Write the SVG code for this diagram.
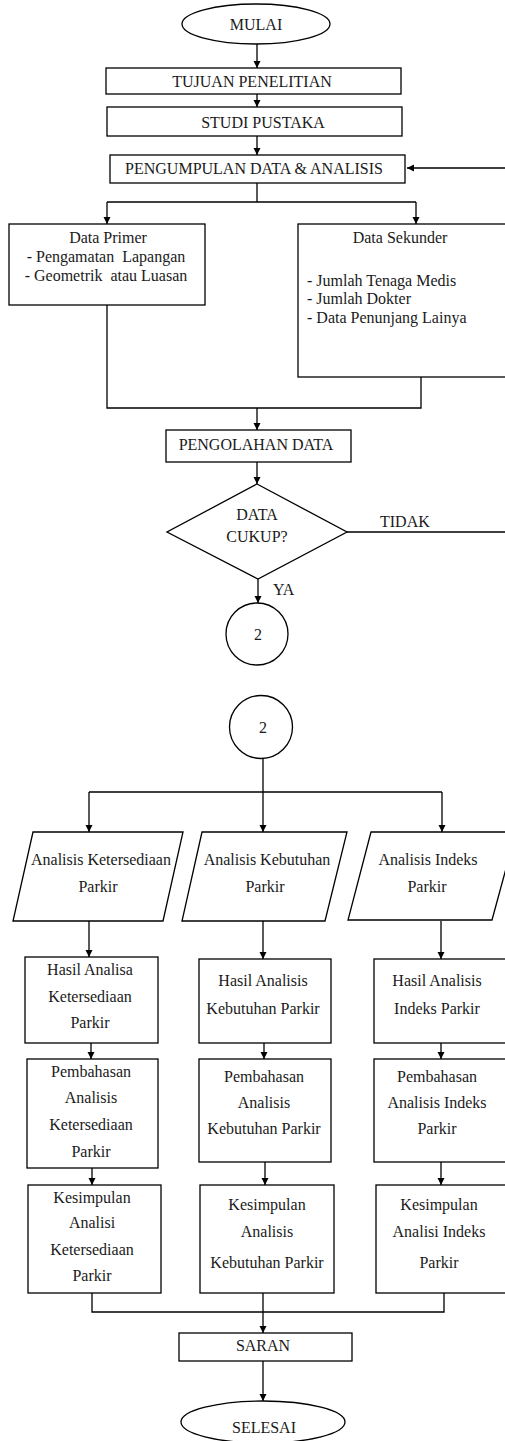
<svg xmlns="http://www.w3.org/2000/svg" width="505" height="1441" viewBox="0 0 505 1441">
<style>
.s{fill:#fff;stroke:#000;stroke-width:1.3}
.c{fill:none;stroke:#000;stroke-width:1.3}
text{font-family:"Liberation Serif","Times New Roman",serif;font-size:16px;fill:#1a1a1a}
.m{text-anchor:middle}
</style>
<defs>
<marker id="a" markerUnits="userSpaceOnUse" markerWidth="8" markerHeight="8" refX="7" refY="4" orient="auto">
<path d="M0,0.5 L7,4 L0,7.5 z" fill="#000"/>
</marker>
</defs>
<rect width="505" height="1441" fill="#fff"/>
<g id="connectors">
<path class="c" d="M257,44 V68" marker-end="url(#a)"/>
<path class="c" d="M257,94 V107" marker-end="url(#a)"/>
<path class="c" d="M257,136 V155" marker-end="url(#a)"/>
<path class="c" d="M257,183 V202 M107,202 H416"/>
<path class="c" d="M107,202 V224" marker-end="url(#a)"/>
<path class="c" d="M416,202 V224" marker-end="url(#a)"/>
<path class="c" d="M107,305 V408 H421 V377"/>
<path class="c" d="M257,408 V430" marker-end="url(#a)"/>
<path class="c" d="M257,462 V484" marker-end="url(#a)"/>
<path class="c" d="M258,579 V603" marker-end="url(#a)"/>
<path class="c" d="M347,532 H512 V168 H407" marker-end="url(#a)"/>
<path class="c" d="M263,758 V792 M89,792 H442"/>
<path class="c" d="M89,792 V832" marker-end="url(#a)"/>
<path class="c" d="M263,792 V832" marker-end="url(#a)"/>
<path class="c" d="M442,792 V832" marker-end="url(#a)"/>
<path class="c" d="M89,921 V957" marker-end="url(#a)"/>
<path class="c" d="M263,921 V959" marker-end="url(#a)"/>
<path class="c" d="M441,921 V959" marker-end="url(#a)"/>
<path class="c" d="M91,1043 V1059" marker-end="url(#a)"/>
<path class="c" d="M264,1043 V1059" marker-end="url(#a)"/>
<path class="c" d="M441,1043 V1059" marker-end="url(#a)"/>
<path class="c" d="M92,1168 V1185" marker-end="url(#a)"/>
<path class="c" d="M265,1162 V1185" marker-end="url(#a)"/>
<path class="c" d="M441,1162 V1185" marker-end="url(#a)"/>
<path class="c" d="M92,1293 V1312 H444 V1293 M263,1293 V1312"/>
<path class="c" d="M263,1312 V1333" marker-end="url(#a)"/>
<path class="c" d="M263,1361 V1401" marker-end="url(#a)"/>
</g>
<g id="mulai"><ellipse class="s" cx="256" cy="24" rx="74" ry="20"/><text class="m" x="256" y="30">MULAI</text></g>
<g id="tujuan"><rect class="s" x="106" y="68" width="295" height="26"/><text class="m" x="252" y="87">TUJUAN PENELITIAN</text></g>
<g id="studi"><rect class="s" x="107" y="107" width="295" height="29"/><text class="m" x="263" y="128">STUDI PUSTAKA</text></g>
<g id="pengumpulan"><rect class="s" x="110" y="155" width="295" height="28"/><text class="m" x="254" y="174">PENGUMPULAN DATA &amp; ANALISIS</text></g>
<g id="primer"><rect class="s" x="9" y="224" width="196" height="81"/>
<text class="m" x="108" y="243">Data Primer</text>
<text class="m" x="106" y="262" xml:space="preserve">- Pengamatan  Lapangan</text>
<text class="m" x="106" y="281" xml:space="preserve">- Geometrik  atau Luasan</text></g>
<g id="sekunder"><rect class="s" x="298" y="224" width="220" height="153"/>
<text class="m" x="400" y="243">Data Sekunder</text>
<text x="307" y="286">- Jumlah Tenaga Medis</text>
<text x="307" y="304">- Jumlah Dokter</text>
<text x="307" y="323">- Data Penunjang Lainya</text></g>
<g id="pengolahan"><rect class="s" x="166" y="430" width="185" height="32"/><text class="m" x="256" y="450">PENGOLAHAN DATA</text></g>
<g id="cukup"><polygon class="s" points="257,484 347,532 258,579 167,532"/>
<text class="m" x="257" y="520">DATA</text><text class="m" x="257" y="542">CUKUP?</text></g>
<text id="tidak" x="380" y="527">TIDAK</text>
<text id="ya" x="273" y="595">YA</text>
<g id="konektor1"><circle class="s" cx="257" cy="634" r="31"/><text class="m" x="258" y="640">2</text></g>
<g id="konektor2"><circle class="s" cx="261" cy="727" r="31.5"/><text class="m" x="263" y="733">2</text></g>
<g id="p1"><polygon class="s" points="33,832 183,832 163,921 13,921"/>
<text class="m" x="101" y="865">Analisis Ketersediaan</text><text class="m" x="98" y="892">Parkir</text></g>
<g id="p2"><polygon class="s" points="202,832 347,832 325,921 182,921"/>
<text class="m" x="267" y="865">Analisis Kebutuhan</text><text class="m" x="265" y="892">Parkir</text></g>
<g id="p3"><polygon class="s" points="371,832 516,832 492,920 348,920"/>
<text class="m" x="428" y="865">Analisis Indeks</text><text class="m" x="427" y="892">Parkir</text></g>
<g id="h1"><rect class="s" x="25" y="957" width="133" height="86"/>
<text class="m" x="90" y="975">Hasil Analisa</text><text class="m" x="90" y="1002">Ketersediaan</text><text class="m" x="90" y="1028">Parkir</text></g>
<g id="h2"><rect class="s" x="199" y="959" width="132" height="84"/>
<text class="m" x="263" y="986">Hasil Analisis</text><text class="m" x="263" y="1014">Kebutuhan Parkir</text></g>
<g id="h3"><rect class="s" x="374" y="959" width="140" height="84"/>
<text class="m" x="437" y="986">Hasil Analisis</text><text class="m" x="437" y="1014">Indeks Parkir</text></g>
<g id="b1"><rect class="s" x="27" y="1059" width="131" height="109"/>
<text class="m" x="91" y="1077">Pembahasan</text><text class="m" x="91" y="1103">Analisis</text><text class="m" x="91" y="1130">Ketersediaan</text><text class="m" x="91" y="1157">Parkir</text></g>
<g id="b2"><rect class="s" x="199" y="1059" width="132" height="103"/>
<text class="m" x="264" y="1082">Pembahasan</text><text class="m" x="264" y="1108">Analisis</text><text class="m" x="264" y="1134">Kebutuhan Parkir</text></g>
<g id="b3"><rect class="s" x="374" y="1059" width="140" height="103"/>
<text class="m" x="437" y="1082">Pembahasan</text><text class="m" x="437" y="1108">Analisis Indeks</text><text class="m" x="437" y="1134">Parkir</text></g>
<g id="k1"><rect class="s" x="28" y="1185" width="133" height="108"/>
<text class="m" x="92" y="1203">Kesimpulan</text><text class="m" x="92" y="1228">Analisi</text><text class="m" x="92" y="1255">Ketersediaan</text><text class="m" x="92" y="1281">Parkir</text></g>
<g id="k2"><rect class="s" x="200" y="1185" width="134" height="108"/>
<text class="m" x="267" y="1210">Kesimpulan</text><text class="m" x="267" y="1237">Analisis</text><text class="m" x="267" y="1268">Kebutuhan Parkir</text></g>
<g id="k3"><rect class="s" x="376" y="1185" width="140" height="108"/>
<text class="m" x="439" y="1210">Kesimpulan</text><text class="m" x="439" y="1237">Analisi Indeks</text><text class="m" x="439" y="1268">Parkir</text></g>
<g id="saran"><rect class="s" x="179" y="1333" width="173" height="28"/><text class="m" x="263" y="1351">SARAN</text></g>
<g id="selesai"><ellipse class="s" cx="263" cy="1422" rx="82" ry="21"/><text class="m" x="264" y="1433">SELESAI</text></g>
</svg>
